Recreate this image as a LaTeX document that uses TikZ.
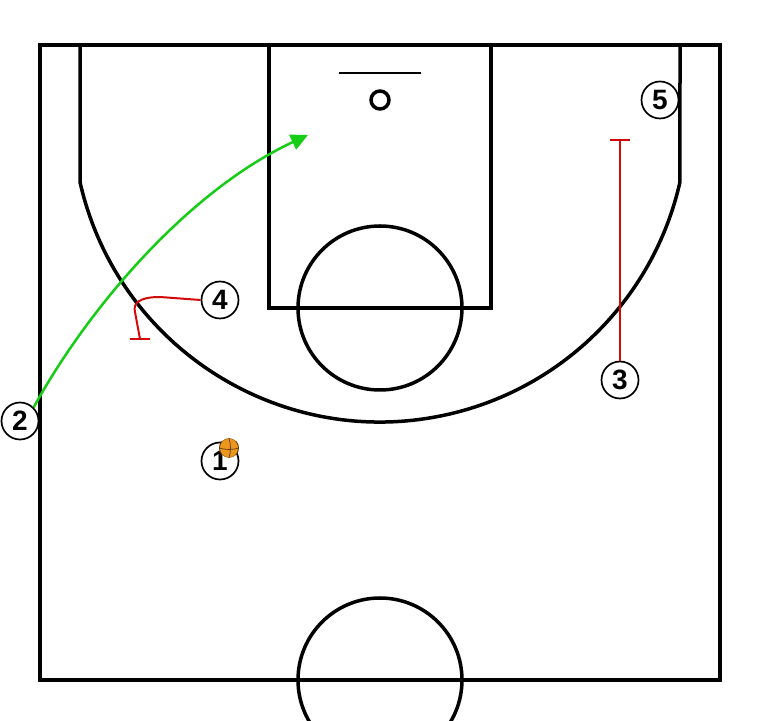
\documentclass[tikz,border=0pt]{standalone}
\usepackage{fontspec}
\setmainfont{Liberation Sans}
\usetikzlibrary{arrows.meta, positioning}

\definecolor{cutgreen}{RGB}{20,205,20}
\definecolor{screenred}{RGB}{210,10,10}
\definecolor{ballorange}{RGB}{236,150,30}

\begin{document}
\begin{tikzpicture}[x=1pt, y=1pt,
    court/.style={line width=3.5pt, black},
    player/.style={circle, draw, line width=1.7pt, fill=white,
        minimum size=37pt, inner sep=0pt,
        font=\fontsize{28}{28}\selectfont\bfseries},
    cut/.style={cutgreen, line width=2.5pt,
        -{Triangle[length=17pt,width=16pt]}},
    screen/.style={screenred, line width=2pt}]
    \clip (0,0) rectangle (760,720);

    % court
    \draw[court] (40,40) rectangle (720,675);
    \draw[court] (269,412) rectangle (491,675);
    \draw[court] (380,412) circle (82);
    \draw[court] (380,40) circle (82);
    \draw[court] (80,675) -- (80,538)
        arc[start angle=192.68, end angle=347.32, radius=307.5]
        -- (680,675);
    \draw[line width=2pt] (339,647) -- (421,647);
    \draw[line width=3.5pt] (380,620) circle (9);

    % players
    \node[player] (p1) at (220,259) {1};
    \node[player] (p2) at (20,299) {2};
    \node[player] (p3) at (620,340) {3};
    \node[player] (p4) at (220,420) {4};
    \node[player] (p5) at (660,620) {5};

    % ball
    \node[circle, fill=ballorange, draw=ballorange!70!black, line width=0.6pt,
        minimum size=19pt, inner sep=0pt] (ball) at (229,272) {};
    \draw[ballorange!40!black, line width=0.7pt]
        (ball.north) to[bend left=15] (ball.south)
        (ball.west) to[bend right=15] (ball.east)
        (ball.north west) to[bend right=40] (ball.south west)
        (ball.north east) to[bend left=40] (ball.south east);

    % cut of 2
    \coordinate (c2) at (308,585);
    \draw[cut] (p2.north east) .. controls (90,415) and (190,530) .. (c2);

    % screens
    \coordinate (s3) at (620,580);
    \draw[screen] (p3.north) -- (s3);
    \draw[screen] ([xshift=-10pt]s3) -- ([xshift=10pt]s3);

    \coordinate (s4) at (140,381);
    \draw[screen] (p4.west) -- (160,423)
        .. controls (138,423) and (133,416) .. (135,408) -- (s4);
    \draw[screen] ([xshift=-10pt]s4) -- ([xshift=10pt]s4);
\end{tikzpicture}
\end{document}
